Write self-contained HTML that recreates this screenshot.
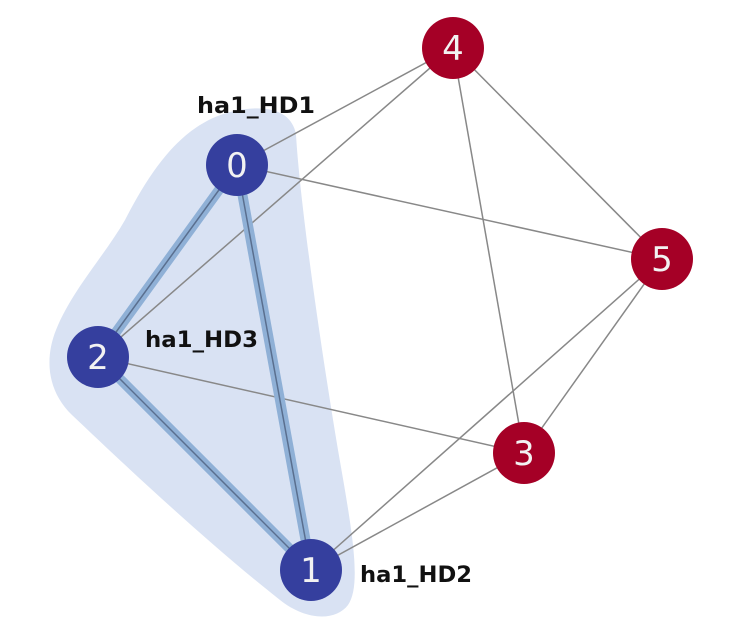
<!DOCTYPE html>
<html><head><meta charset="utf-8"><style>
html,body{margin:0;padding:0;background:#fff;width:738px;height:640px;overflow:hidden}
</style></head><body>
<svg width="738" height="640" viewBox="0 0 738 640" xmlns="http://www.w3.org/2000/svg">
<rect width="738" height="640" fill="#fff"/>
<path d="M230,112 C262,104 292,108 296,135 C300,200 318,330 338,450 C352,530 362,585 348,605 C335,622 305,620 280,600 C210,545 130,470 72,415 C48,392 44,360 56,330 C72,290 105,255 125,220 C150,172 180,125 230,112 Z" fill="#d9e2f3"/>
<g stroke="#888" stroke-width="1.5" fill="none">
<line x1="237" y1="165" x2="453" y2="48"/>
<line x1="237" y1="165" x2="662" y2="259"/>
<line x1="98" y1="357" x2="453" y2="48"/>
<line x1="98" y1="357" x2="524" y2="453"/>
<line x1="453" y1="48" x2="662" y2="259"/>
<line x1="453" y1="48" x2="524" y2="453"/>
<line x1="662" y1="259" x2="524" y2="453"/>
<line x1="662" y1="259" x2="311" y2="570"/>
<line x1="524" y1="453" x2="311" y2="570"/>
</g>
<g stroke="#8fb0d6" stroke-width="10" stroke-linecap="round">
<line x1="237" y1="165" x2="98" y2="357"/>
<line x1="237" y1="165" x2="311" y2="570"/>
<line x1="98" y1="357" x2="311" y2="570"/>
</g>
<g stroke="#5a6f8f" stroke-width="1.5">
<line x1="237" y1="165" x2="98" y2="357"/>
<line x1="237" y1="165" x2="311" y2="570"/>
<line x1="98" y1="357" x2="311" y2="570"/>
</g>
<g fill="#353f9e">
<circle cx="237" cy="165" r="31"/>
<circle cx="98" cy="357" r="31"/>
<circle cx="311" cy="570" r="31"/>
</g>
<g fill="#a50026">
<circle cx="453" cy="48" r="31"/>
<circle cx="662" cy="259" r="31"/>
<circle cx="524" cy="453" r="31"/>
</g>
<g fill="#f2f2f2" font-family="'DejaVu Sans','Liberation Sans',sans-serif" font-size="34" text-anchor="middle">
<text x="237" y="177">0</text>
<text x="98" y="369">2</text>
<text x="311" y="582">1</text>
<text x="453" y="60">4</text>
<text x="662" y="271">5</text>
<text x="524" y="465">3</text>
</g>
<g fill="#111" font-family="'DejaVu Sans','Liberation Sans',sans-serif" font-weight="bold" font-size="22" textLength="118">
<text x="197" y="113" textLength="118" lengthAdjust="spacingAndGlyphs">ha1_HD1</text>
<text x="145" y="347" textLength="113" lengthAdjust="spacingAndGlyphs">ha1_HD3</text>
<text x="360" y="582" textLength="112" lengthAdjust="spacingAndGlyphs">ha1_HD2</text>
</g>
</svg>
</body></html>
